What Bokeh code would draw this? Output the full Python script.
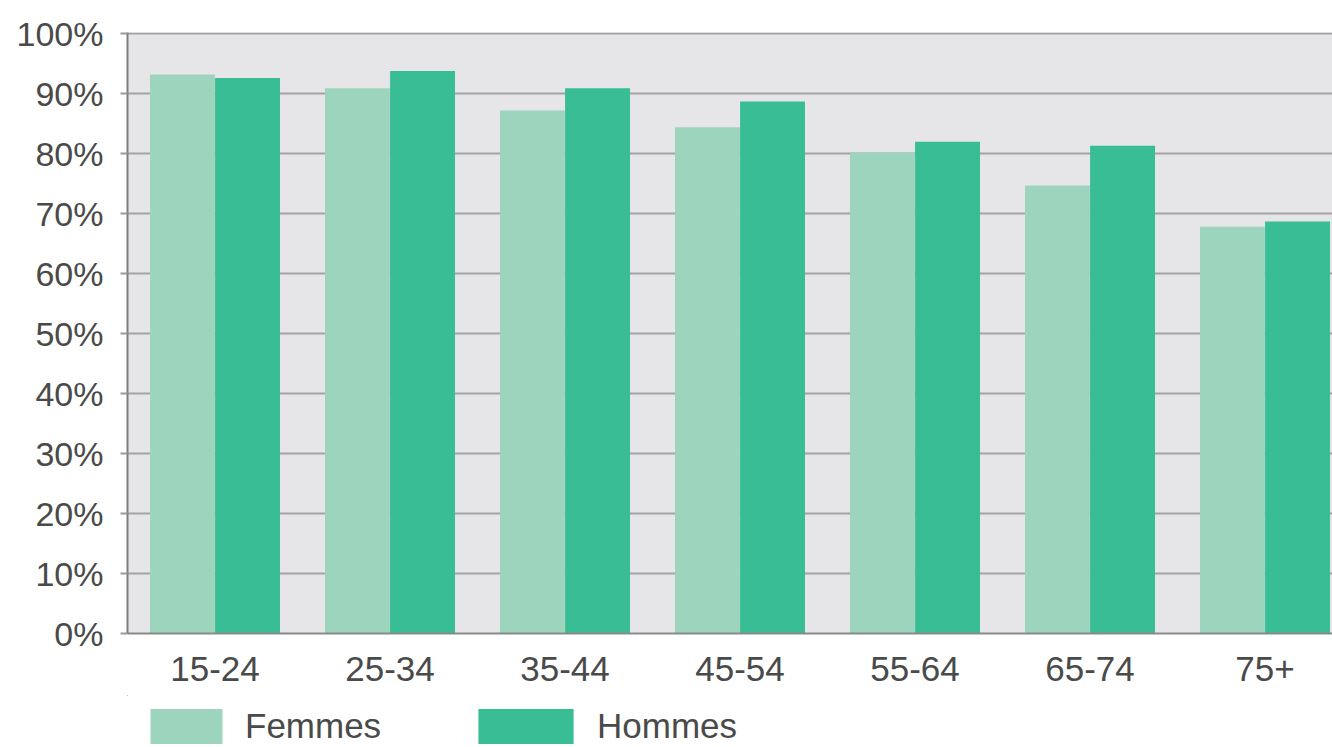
import numpy as np
from bokeh.plotting import figure
from bokeh.layouts import column
from bokeh.models import (ColumnDataSource, Range1d, FixedTicker, PrintfTickFormatter,
                          Legend, LegendItem)
from bokeh.transform import dodge
from bokeh.embed import file_html
from bokeh.resources import INLINE

# ---- data ----
ages = ["15-24", "25-34", "35-44", "45-54", "55-64", "65-74", "75+"]
femmes = [93.2, 90.9, 87.2, 84.4, 80.2, 74.7, 67.8]
hommes = [92.6, 93.8, 90.9, 88.7, 82.0, 81.3, 68.7]
y_ticks = [0, 10, 20, 30, 40, 50, 60, 70, 80, 90, 100]
series_names = ["Femmes", "Hommes"]

FONT = "Liberation Sans"
TXT = "#4a4a4a"
C_F = "#9dd4be"
C_H = "#38bd95"

W = 1332
xpos = np.arange(len(ages)) + 0.5
src = ColumnDataSource(dict(x=xpos, femmes=femmes, hommes=hommes, age=ages))

p = figure(width=W, height=695, output_backend="svg", toolbar_location=None,
           x_range=Range1d(0, (W - 127) / 175.0), y_range=Range1d(0, 100.2),
           min_border_left=127, min_border_right=0, min_border_top=32,
           min_border_bottom=62)

p.background_fill_color = "#e6e6e8"
p.border_fill_color = "white"
p.outline_line_color = None

rf = p.vbar(x=dodge("x", -0.186, range=p.x_range), top="femmes", width=0.371,
            source=src, fill_color=C_F, line_color=None)
rh = p.vbar(x=dodge("x", 0.186, range=p.x_range), top="hommes", width=0.371,
            source=src, fill_color=C_H, line_color=None)

# grid
p.xgrid.grid_line_color = None
p.ygrid.ticker = FixedTicker(ticks=y_ticks)
p.ygrid.grid_line_color = "#a3a3a6"
p.ygrid.grid_line_width = 2
p.ygrid.level = "underlay"

# y axis
p.yaxis.ticker = FixedTicker(ticks=y_ticks)
p.yaxis.formatter = PrintfTickFormatter(format="%d%%")
p.yaxis.axis_line_color = "#7d7d7d"
p.yaxis.axis_line_width = 2
p.yaxis.major_tick_out = 7
p.yaxis.major_tick_in = 0
p.yaxis.major_tick_line_color = "#9a9a9a"
p.yaxis.major_tick_line_width = 2
p.yaxis.minor_tick_line_color = None
p.yaxis.major_label_text_font = FONT
p.yaxis.major_label_text_font_size = "34px"
p.yaxis.major_label_text_color = TXT
p.yaxis.major_label_standoff = 17

# x axis
p.xaxis.ticker = FixedTicker(ticks=list(xpos))
p.xaxis.major_label_overrides = {float(x): a for x, a in zip(xpos, ages)}
p.xaxis.axis_line_color = "#8a8a8a"
p.xaxis.axis_line_width = 2
p.xaxis.major_tick_line_color = None
p.xaxis.minor_tick_line_color = None
p.xaxis.major_label_text_font = FONT
p.xaxis.major_label_text_font_size = "35px"
p.xaxis.major_label_text_color = TXT
p.xaxis.major_label_standoff = 17

# ---- legend strip (its frame lines up with the chart frame) ----
p2 = figure(width=W, height=52, output_backend="svg", toolbar_location=None,
            x_range=Range1d(100, 101), y_range=Range1d(-2, -1),
            min_border=0, outline_line_color=None)
p2.axis.visible = False
p2.grid.visible = False
p2.background_fill_color = "white"
# same series, drawn outside this strip's view; used only for the legend swatches
lf = p2.vbar(x="x", top="femmes", width=0.1, source=src, fill_color=C_F, line_color=None)
lh = p2.vbar(x="x", top="hommes", width=0.1, source=src, fill_color=C_H, line_color=None)

def make_legend(label, renderer, gw, standoff, loc):
    lg = Legend(items=[LegendItem(label=label, renderers=[renderer])],
                location=loc, orientation="horizontal",
                glyph_width=gw, glyph_height=44, label_height=35,
                label_standoff=standoff, padding=0, margin=0, spacing=0,
                border_line_color=None, background_fill_alpha=0,
                label_text_font=FONT, label_text_font_size="35px",
                label_text_color=TXT)
    p2.add_layout(lg, "center")
    return lg

make_legend(series_names[0], lf, 90, 14, (14, -1))
make_legend(series_names[1], lh, 119, 12, (339, -1))

layout = column(p, p2, spacing=0)
open("out.html", "w").write(file_html(layout, INLINE))
